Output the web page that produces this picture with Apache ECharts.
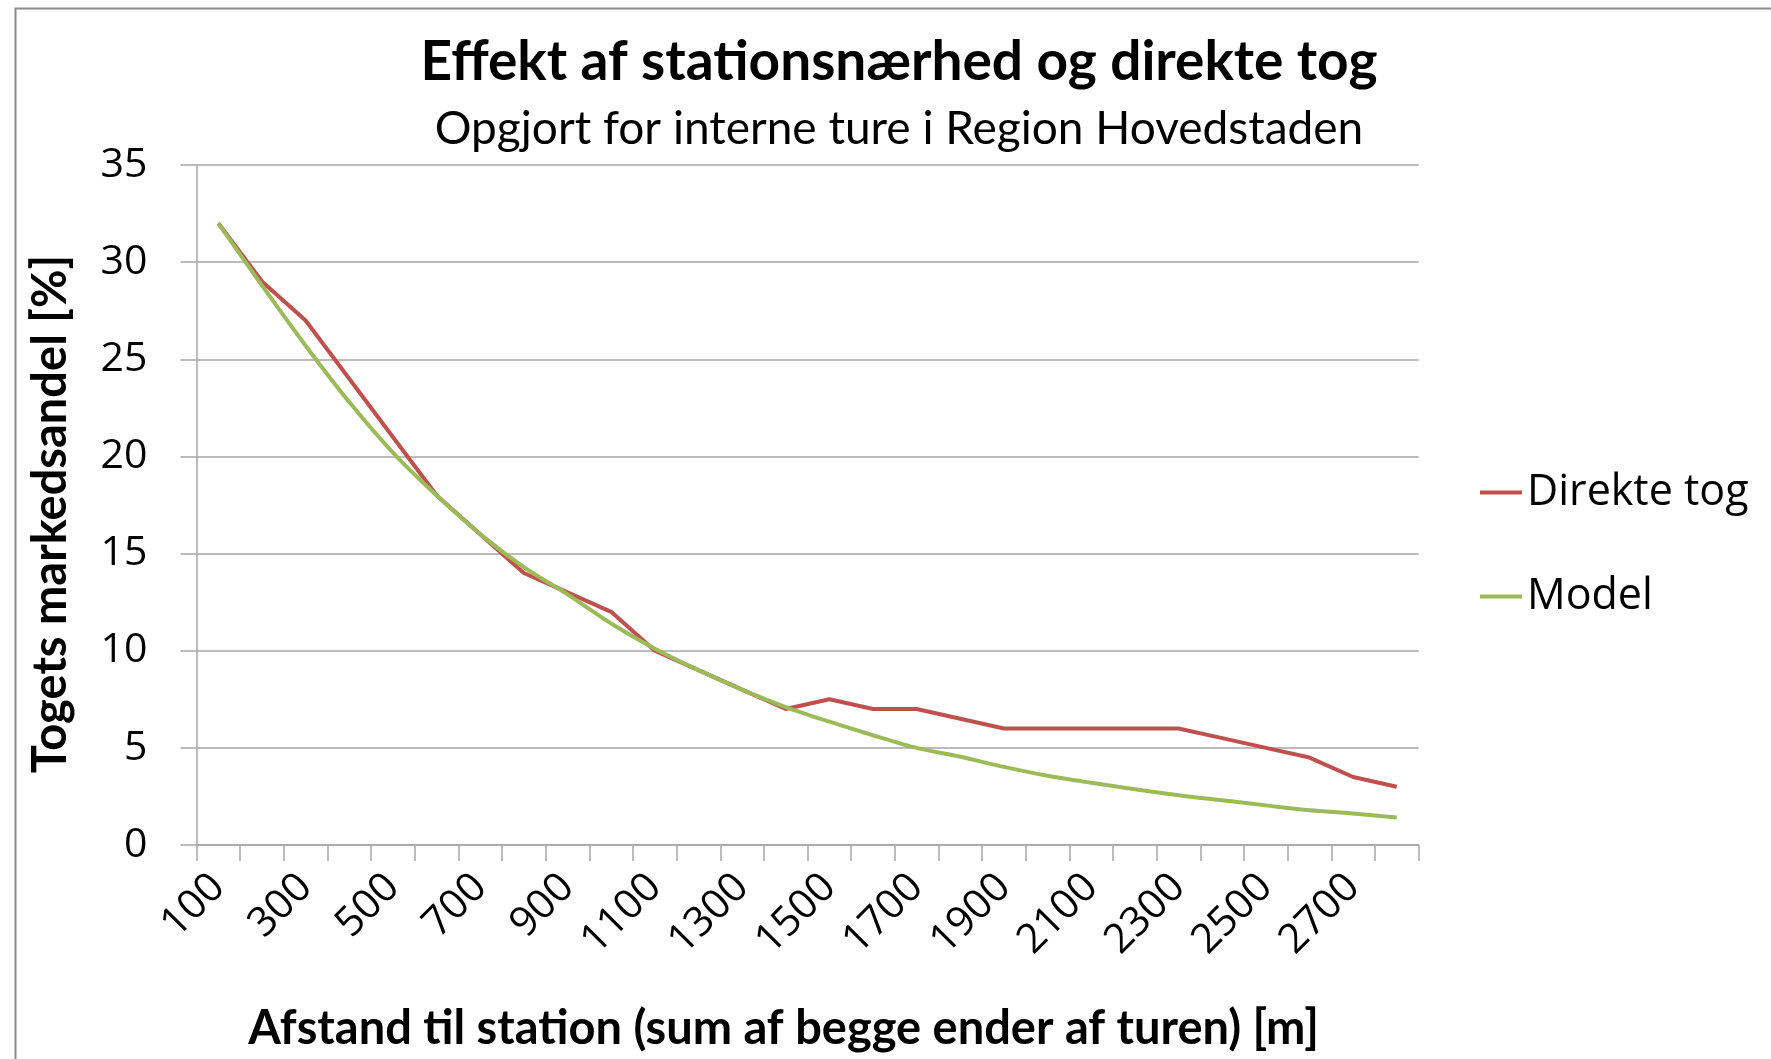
<!DOCTYPE html>
<html>
<head>
<meta charset="utf-8">
<script src="https://cdn.jsdelivr.net/npm/echarts@6/dist/echarts.min.js"></script>
<style>
html,body{margin:0;padding:0;background:#fff;}
#c{width:1771px;height:1059px;}
</style>
</head>
<body>
<div id="c"></div>
<script>
const categories = ['100','200','300','400','500','600','700','800','900','1000','1100','1200','1300','1400','1500','1600','1700','1800','1900','2000','2100','2200','2300','2400','2500','2600','2700','2800'];
const direkteTog = [32,29,27,24,21,18,16,14,13,12,10,9,8,7,7.5,7,7,6.5,6,6,6,6,6,5.5,5,4.5,3.5,3];
const model = [32,28.8,25.7,22.8,20.2,18,16,14.3,12.9,11.4,10.1,9.0,8.0,7.1,6.35,5.65,5.0,4.54,4.02,3.56,3.2,2.87,2.56,2.3,2.04,1.79,1.62,1.41];
const yTicks = [0,5,10,15,20,25,30,35];
const seriesNames = ['Direkte tog','Model'];
const titleText = 'Effekt af stationsnærhed og direkte tog';
const subtitleText = 'Opgjort for interne ture i Region Hovedstaden';
const xName = 'Afstand til station (sum af begge ender af turen) [m]';
const yName = 'Togets markedsandel [%]';

const chart = echarts.init(document.getElementById('c'));
chart.setOption({
  backgroundColor:'#fff',
  animation:false,
  title:[
    {text:titleText,left:894,top:30,textAlign:'center',
     textStyle:{fontFamily:'Lato',fontWeight:'bold',fontSize:55,color:'#000'}},
    {text:subtitleText,left:894,top:101,textAlign:'center',
     textStyle:{fontFamily:'Lato',fontWeight:'normal',fontSize:46,color:'#000'}}
  ],
  graphic:[{type:'rect',left:13,top:6,shape:{width:2000,height:2000},
    style:{fill:'none',stroke:'#8c8c8c',lineWidth:2},silent:true}],
  legend:{
    orient:'vertical',left:1480,top:471,padding:0,itemGap:61,itemWidth:42,itemHeight:4,
    icon:'rect',
    textStyle:{fontFamily:'Open Sans',fontSize:43,color:'#000'},
    data:seriesNames
  },
  grid:{left:196.5,right:352.4,top:165,bottom:214,containLabel:false},
  xAxis:{
    type:'category',data:categories,boundaryGap:true,
    name:xName,nameLocation:'middle',nameGap:160,
    nameTextStyle:{fontFamily:'Lato',fontWeight:'bold',fontSize:47,color:'#000',padding:[0,48,0,0]},
    axisLine:{lineStyle:{color:'#a6a6a6',width:1.5}},
    axisTick:{show:true,interval:0,length:16,lineStyle:{color:'#a6a6a6',width:1.5}},
    axisLabel:{interval:1,rotate:45,margin:36,fontFamily:'Open Sans',fontSize:41,color:'#000'}
  },
  yAxis:{
    type:'value',min:0,max:35,interval:5,
    name:yName,nameLocation:'middle',nameGap:122,
    nameTextStyle:{fontFamily:'Lato',fontWeight:'bold',fontSize:47,color:'#000',padding:[0,18,0,0]},
    axisLine:{show:true,lineStyle:{color:'#a6a6a6',width:1.5}},
    axisTick:{show:true,length:16,lineStyle:{color:'#a6a6a6',width:1.5}},
    axisLabel:{margin:49,fontFamily:'Open Sans',fontSize:41,color:'#000',
      formatter:function(v){return yTicks.indexOf(v)>=0?String(v):'';}},
    splitLine:{lineStyle:{color:'#a6a6a6',width:1.5}}
  },
  series:[
    {name:seriesNames[0],type:'line',data:direkteTog,symbol:'none',
     lineStyle:{color:'#c0504d',width:4},itemStyle:{color:'#c0504d'}},
    {name:seriesNames[1],type:'line',data:model,symbol:'none',smooth:0.3,
     lineStyle:{color:'#9bbb59',width:4},itemStyle:{color:'#9bbb59'}}
  ]
});
</script>
</body>
</html>
